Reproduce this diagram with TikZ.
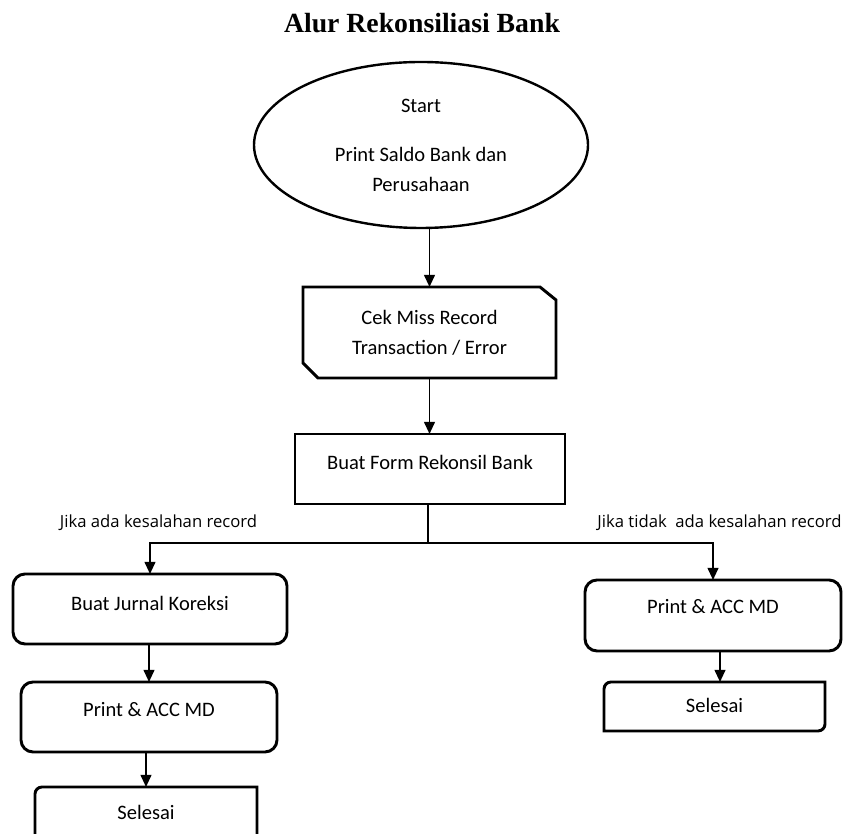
\documentclass[tikz,border=0pt]{standalone}
\usepackage{fontspec}
\setmainfont{Carlito}
\newfontfamily\titlefont{Liberation Serif}
\newfontfamily\lblfont{Open Sans}
\usetikzlibrary{shapes.geometric,arrows.meta,calc}
\begin{document}
\begin{tikzpicture}[x=0.75pt,y=0.75pt,
  boxline/.style={line width=2.2pt},
  box/.style={rectangle, inner sep=0pt, outer sep=0pt},
  txt/.style={font=\fontsize{15.4pt}{22.5pt}\selectfont, align=center, inner sep=0pt},
  lbl/.style={font=\lblfont\fontsize{12.5pt}{14pt}\selectfont, inner sep=0pt},
  arr/.style={line width=1.4pt, -{Triangle[length=9pt,width=8pt]}},
  conn/.style={line width=1.4pt}]
\useasboundingbox[fill=white] (0,0) rectangle (849,834);

% title
\node[font=\titlefont\bfseries\fontsize{20.8pt}{24pt}\selectfont, inner sep=0pt] (title) at (422,811) {Alur Rekonsiliasi Bank};

% start ellipse
\node[ellipse, draw, line width=1.8pt, minimum width=250.5pt, minimum height=124.5pt, inner sep=0pt, txt] (start) at (421,689)
  {Start\\[14.25pt]Print Saldo Bank dan\\Perusahaan};

% cut-corner box
\node[box, txt, minimum width=189.75pt, minimum height=68.25pt] (cek) at (429.5,501.5) {Cek Miss Record\\Transaction / Error};
\draw[boxline] (cek.north west) -- ($(cek.north east)+(-16,0)$) -- ($(cek.north east)+(0,-13)$)
  -- (cek.south east) -- ($(cek.south west)+(15,0)$) -- ($(cek.south west)+(0,15)$) -- cycle;

% form box
\node[box, draw, boxline, minimum width=202.5pt, minimum height=52.5pt] (form) at (430,365) {};
\node[txt] (formtxt) at (430,372) {Buat Form Rekonsil Bank};

% labels
\node[lbl] (lblL) at (158.5,311) {Jika ada kesalahan record};
\node[lbl] (lblR) at (719.5,311) {Jika tidak\ \ ada kesalahan record};

% left branch
\node[box, draw, boxline, rounded corners=9pt, minimum width=205.5pt, minimum height=52.5pt] (jurnal) at (150,225) {};
\node[txt] (jurnaltxt) at (150,231) {Buat Jurnal Koreksi};

\node[box, draw, boxline, rounded corners=9pt, minimum width=192pt, minimum height=52.5pt] (print1) at (149,117) {};
\node[txt] (print1txt) at (149,124) {Print \& ACC MD};

\node[box, minimum width=166.5pt, minimum height=41.25pt] (selesai1) at (146,19.5) {};
\draw[boxline] (selesai1.south west) -- ([yshift=-5.25pt]selesai1.north west)
  arc[start angle=180, end angle=90, radius=5.25pt] -- (selesai1.north east)
  -- ([yshift=5.25pt]selesai1.south east) arc[start angle=0, end angle=-90, radius=5.25pt] -- cycle;
\node[txt] (selesai1txt) at (146,22) {Selesai};

% right branch
\node[box, draw, boxline, rounded corners=9pt, minimum width=192pt, minimum height=53.25pt] (print2) at (713,218.5) {};
\node[txt] (print2txt) at (713,227) {Print \& ACC MD};

\node[box, minimum width=165.75pt, minimum height=36.75pt] (selesai2) at (714.5,127.5) {};
\draw[boxline] (selesai2.south west) -- ([yshift=-5.25pt]selesai2.north west)
  arc[start angle=180, end angle=90, radius=5.25pt] -- (selesai2.north east)
  -- ([yshift=5.25pt]selesai2.south east) arc[start angle=0, end angle=-90, radius=5.25pt] -- cycle;
\node[txt] (selesai2txt) at (714.5,129) {Selesai};

% connectors
\draw[arr] (start.south -| cek.north) -- (cek.north);
\draw[arr] (cek.south) -- (cek.south |- form.north);
\coordinate (split) at (428,291);
\draw[conn] (form.south -| split) -- (split);
\draw[arr] (split) -| (jurnal.north);
\draw[arr] (split) -| (print2.north);
\draw[arr] (jurnal.south -| print1.north) -- (print1.north);
\draw[arr] (print1.south -| selesai1.north) -- (selesai1.north);
\coordinate (p2s) at ($(print2.south)+(7,0)$);
\draw[arr] (p2s) -- (p2s |- selesai2.north);
\end{tikzpicture}
\end{document}
